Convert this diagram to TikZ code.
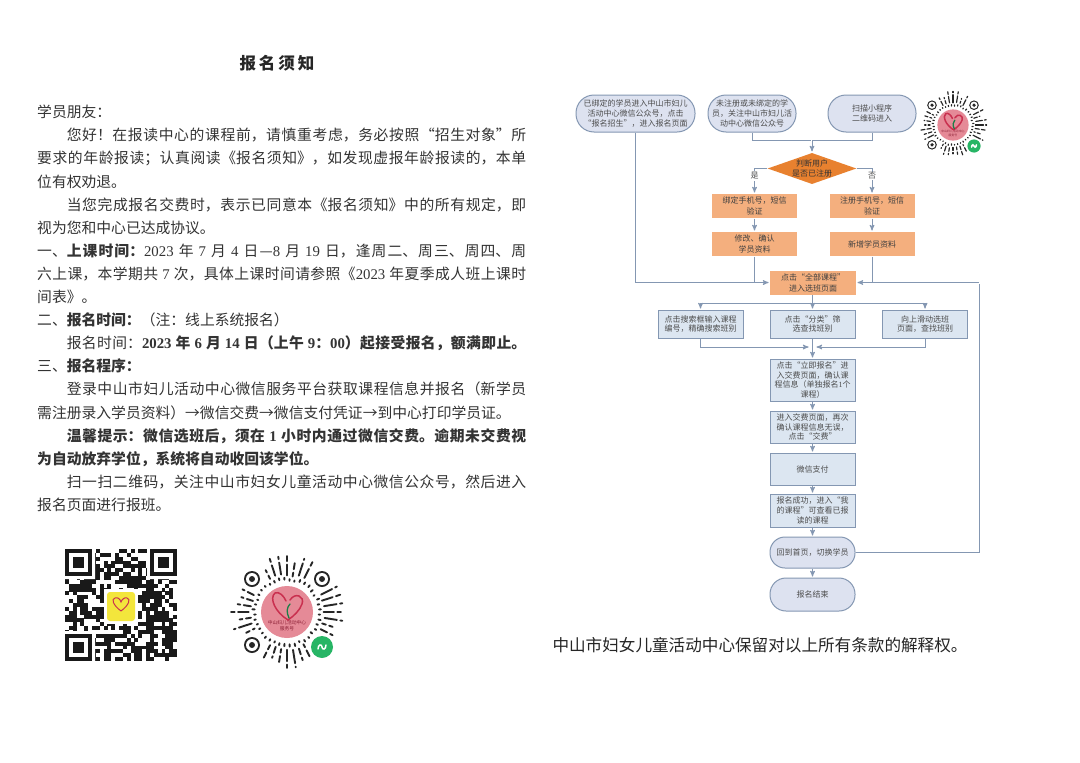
\documentclass[tikz,border=0pt]{standalone}
\usepackage{fontspec}
\setmainfont{Noto Sans CJK SC}
\newfontfamily\numfont{Liberation Serif}
\usepackage{tikz}
\usetikzlibrary{arrows, calc, shapes.geometric}
\XeTeXlinebreaklocale "zh"
\XeTeXlinebreakskip=0pt plus 1pt
\newcommand{\nf}[1]{{\numfont #1}}
\newcommand{\codelw}{1.9pt}
\definecolor{linec}{HTML}{8497B2}
\definecolor{pillc}{HTML}{DDE2F0}
\definecolor{bluec}{HTML}{DCE6F1}
\definecolor{orangec}{HTML}{F4AF7E}
\definecolor{diamondc}{HTML}{E8812F}
\definecolor{heartc}{HTML}{C9304F}
\definecolor{pinkc}{HTML}{E58A97}
\definecolor{greenc}{HTML}{27B565}
\definecolor{yellowc}{HTML}{F3E63C}
\tikzset{
  minicode/.pic={
    \fill[black!85] (-35,-33) circle (8) (35,-33) circle (8) (-35,33) circle (8);
    \fill[white] (-35,-33) circle (6) (35,-33) circle (6) (-35,33) circle (6);
    \fill[black!85] (-35,-33) circle (3) (35,-33) circle (3) (-35,33) circle (3);
    \foreach \a in {0,9,...,351}{
      \pgfmathsetmacro{\raya}{31+2*rnd}
      \pgfmathsetmacro{\rayb}{\raya+1+1.5*rnd}
      \pgfmathsetmacro{\rayc}{\rayb+3.5}
      \pgfmathsetmacro{\rayd}{\rayc+2+12*rnd}
      \pgfmathsetmacro{\raye}{\rayd+3.5}
      \pgfmathsetmacro{\rayf}{min(\raye+1+6*rnd,56)}
      \draw[black!85,line width=\codelw,line cap=round] (\a+4.5:\raya) -- (\a+4.5:\rayb);
      \pgfmathparse{abs(mod(\a,90)-45)<14 ? 1 : 0}
      \ifnum\pgfmathresult=0
        \draw[black!85,line width=\codelw,line cap=round] (\a:\rayc) -- (\a:\rayd);
        \ifdim\raye pt<\rayf pt \draw[black!85,line width=\codelw,line cap=round] (\a:\raye) -- (\a:\rayf);\fi
      \fi
    }
    \fill[pinkc] (0,0) circle (26);
    \draw[heartc,line width=1.5pt,line cap=round] (1,8) .. controls (-12,0) and (-18,-14) .. (-12,-19) .. controls (-8,-21) and (-3,-16) .. (-1,-11);
    \draw[heartc,line width=1.5pt,line cap=round] (3,-12) .. controls (8,-20) and (18,-16) .. (15,-8) .. controls (13,-2) and (7,4) .. (1,8);
    \draw[greenc!70!black,line width=1.3pt,line cap=round] (2,6) .. controls (-1,0) and (0,-5) .. (3,-8);
    \node[font=\fontsize{4.8}{5.8}\selectfont,text=heartc!70!black,align=center,inner sep=0pt,transform shape] (codetext) at (0,14) {中山妇儿活动中心\\服务号};
    \fill[greenc] (35,35) circle (11);
    \draw[white,line width=1.5pt,line cap=round] (31,37) .. controls (31,32) and (35,32) .. (35,35) .. controls (35,38) and (39,38) .. (39,33);
  },
  qrcode/.pic={
    \foreach \i in {0,...,28}{\foreach \j in {0,...,28}{
      \pgfmathparse{int(rnd+0.56)}
      \ifnum\pgfmathresult=1 \fill[black!90] (\i*3.86,\j*3.86) rectangle +(3.9,3.9);\fi
    }}
    \fill[white] (-1,-1) rectangle (30,30) (82,-1) rectangle (113,30) (-1,82) rectangle (30,113);
    \foreach \px/\py in {0/0,85/0,0/85}{
      \fill[black!90] (\px,\py) rectangle +(27,27);
      \fill[white] (\px+3.9,\py+3.9) rectangle +(19.2,19.2);
      \fill[black!90] (\px+7.7,\py+7.7) rectangle +(11.6,11.6);
    }
    \fill[white] (39,40) rectangle (73,75);
    \fill[yellowc,rounded corners=3pt] (42,43) rectangle (70,72);
    \draw[heartc,line width=1pt] (56,62) .. controls (48,56) and (46,50) .. (50,49) .. controls (53,48) and (55,50) .. (56,53) .. controls (57,50) and (60,48) .. (62,49) .. controls (66,50) and (64,56) .. (56,62);
  }
}

\begin{document}
\begin{tikzpicture}[x=1pt,y=-1pt]
        \useasboundingbox (0,0) rectangle (1080,763);
        \fill[white] (0,0) rectangle (1080,763);
        \node[font=\fontsize{16.5}{20}\selectfont\bfseries,text=black!85] (title) at (277,63) {报\hspace{3pt}名\hspace{3pt}须\hspace{3pt}知};
        \node[anchor=north west,inner sep=0pt,text width=489pt,align=justify,text=black!80,font=\fontsize{14.8}{23.1}\selectfont] (notice) at (37,105) {%
学员朋友：\\
\hspace*{2em}您好！在报读中心的课程前，请慎重考虑，务必按照“招生对象”所\linebreak
要求的年龄报读；认真阅读《报名须知》，如发现虚报年龄报读的，本单\linebreak
位有权劝退。\\
\hspace*{2em}当您完成报名交费时，表示已同意本《报名须知》中的所有规定，即\linebreak
视为您和中心已达成协议。\\
一、\textbf{上课时间：}\nf{2023} 年 \nf{7} 月 \nf{4} 日—\nf{8} 月 \nf{19} 日，逢周二、周三、周四、周\linebreak
六上课，本学期共 \nf{7} 次，具体上课时间请参照《\nf{2023} 年夏季成人班上课时\linebreak
间表》。\\
二、\textbf{报名时间：}（注：线上系统报名）\\
\hspace*{2em}报名时间：\textbf{\nf{2023} 年 \nf{6} 月 \nf{14} 日（上午 \nf{9}：\nf{00}）起接受报名，额满即止。}\linebreak
三、\textbf{报名程序：}\\
\hspace*{2em}登录中山市妇儿活动中心微信服务平台获取课程信息并报名（新学员\linebreak
需注册录入学员资料）→微信交费→微信支付凭证→到中心打印学员证。\\
\hspace*{2em}\textbf{温馨提示：微信选班后，须在 \nf{1} 小时内通过微信交费。逾期未交费视}\linebreak
\textbf{为自动放弃学位，系统将自动收回该学位。}\\
\hspace*{2em}扫一扫二维码，关注中山市妇女儿童活动中心微信公众号，然后进入\linebreak
报名页面进行报班。};
        \pgfmathsetseed{2023}
        \pic at (65,549) {qrcode};
        \pic at (287,612) {minicode};
        \begin{scope}
        \renewcommand{\codelw}{1.2pt}
        \pic[scale=0.6] at (953,125) {minicode};
        \end{scope}
        \begin{scope}[->,>=stealth',shorten >=1pt,line width=1pt,draw=linec,
                every node/.style={inner sep=0pt,align=center,text=black!70,font=\fontsize{8}{9.8}\selectfont},
                pill node/.style={draw=linec,fill=pillc,rounded corners=18pt,minimum height=37pt},
                blue node/.style={draw=linec,fill=bluec,minimum width=85pt},
                orange node/.style={fill=orangec,minimum width=85pt,minimum height=24pt,text=black!75,font=\fontsize{8}{11}\selectfont},
                flow label/.style={fill=white,inner sep=1pt,text=black!70}]
        \node[pill node,minimum width=119pt] (1) at (635.5,113.5) {已绑定的学员进入中山市妇儿\\活动中心微信公众号，点击\\“报名招生”，进入报名页面};
        \node[pill node,minimum width=88pt] (2) at (752,113.5) {未注册或未绑定的学\\员，关注中山市妇儿活\\动中心微信公众号};
        \node[pill node,minimum width=88pt] (3) at (872,113.5) {扫描小程序\\二维码进入};
        \node[diamond,aspect=2.84,fill=diamondc,minimum width=88pt,minimum height=31pt,text=black!80] (4) at (812,168.5) {判断用户\\是否已注册};
        \node[orange node] (5) at (754.5,206) {绑定手机号，短信\\验证};
        \node[orange node] (6) at (872,206) {注册手机号，短信\\验证};
        \node[orange node] (7) at (754.5,244) {修改、确认\\学员资料};
        \node[orange node] (8) at (872,244) {新增学员资料};
        \node[orange node,minimum width=86pt] (9) at (813,282.5) {点击“全部课程”\\进入选班页面};
        \node[blue node,minimum height=28pt] (10) at (700.5,324) {点击搜索框输入课程\\编号，精确搜索班别};
        \node[blue node,minimum height=28pt] (11) at (812.5,324) {点击“分类”筛\\选查找班别};
        \node[blue node,minimum height=28pt] (12) at (925,324) {向上滑动选班\\页面，查找班别};
        \node[blue node,minimum height=42pt] (13) at (812.5,380) {点击“立即报名”进\\入交费页面，确认课\\程信息（单独报名\nf{1}个\\课程）};
        \node[blue node,minimum height=32pt] (14) at (812.5,427) {进入交费页面，再次\\确认课程信息无误，\\点击“交费”};
        \node[blue node,minimum height=32pt] (15) at (812.5,469) {微信支付};
        \node[blue node,minimum height=33pt] (16) at (812.5,510.5) {报名成功，进入“我\\的课程”可查看已报\\读的课程};
        \node[pill node,minimum width=85pt,minimum height=31pt,rounded corners=15pt] (17) at (812.5,552.5) {回到首页，切换学员};
        \node[pill node,minimum width=85pt,minimum height=33pt,rounded corners=16pt] (18) at (812.5,594.5) {报名结束};
        \coordinate (top) at (812,140);
        \coordinate (spread) at (812.5,303);
        \coordinate (merge) at (812.5,347);
        \coordinate (back) at (979,282.5);
        \draw[-] (2.south) |- (top);
        \draw[-] (3.south) |- (top);
        \draw (top) -- (4.north);
        \draw (4.west) -| node[flow label,pos=0.65] {是} (5.north);
        \draw (4.east) -| node[flow label,pos=0.65] {否} (6.north);
        \draw (5) -- (7);
        \draw (6) -- (8);
        \draw (1.south) |- (9.west);
        \draw[-] (7.south) -- (7.south |- 9.west);
        \draw[-] (8.south) -- (8.south |- 9.east);
        \draw (back) -- (9.east);
        \draw[-] (17.east) -| (back);
        \draw (9.south -| 11.north) -- (11.north);
        \draw (spread) -| (10.north);
        \draw (spread) -| (12.north);
        \draw (10.south) |- ([xshift=-3pt]merge);
        \draw (12.south) |- ([xshift=3pt]merge);
        \draw (11.south) -- (13.north);
        \draw (13) -- (14);
        \draw (14) -- (15);
        \draw (15) -- (16);
        \draw (16) -- (17);
        \draw (17) -- (18);
        \end{scope}
        \node[font=\fontsize{16.6}{20}\selectfont,text=black!85,inner sep=0pt] (footer) at (760,645) {中山市妇女儿童活动中心保留对以上所有条款的解释权。};
\end{tikzpicture}
\end{document}
